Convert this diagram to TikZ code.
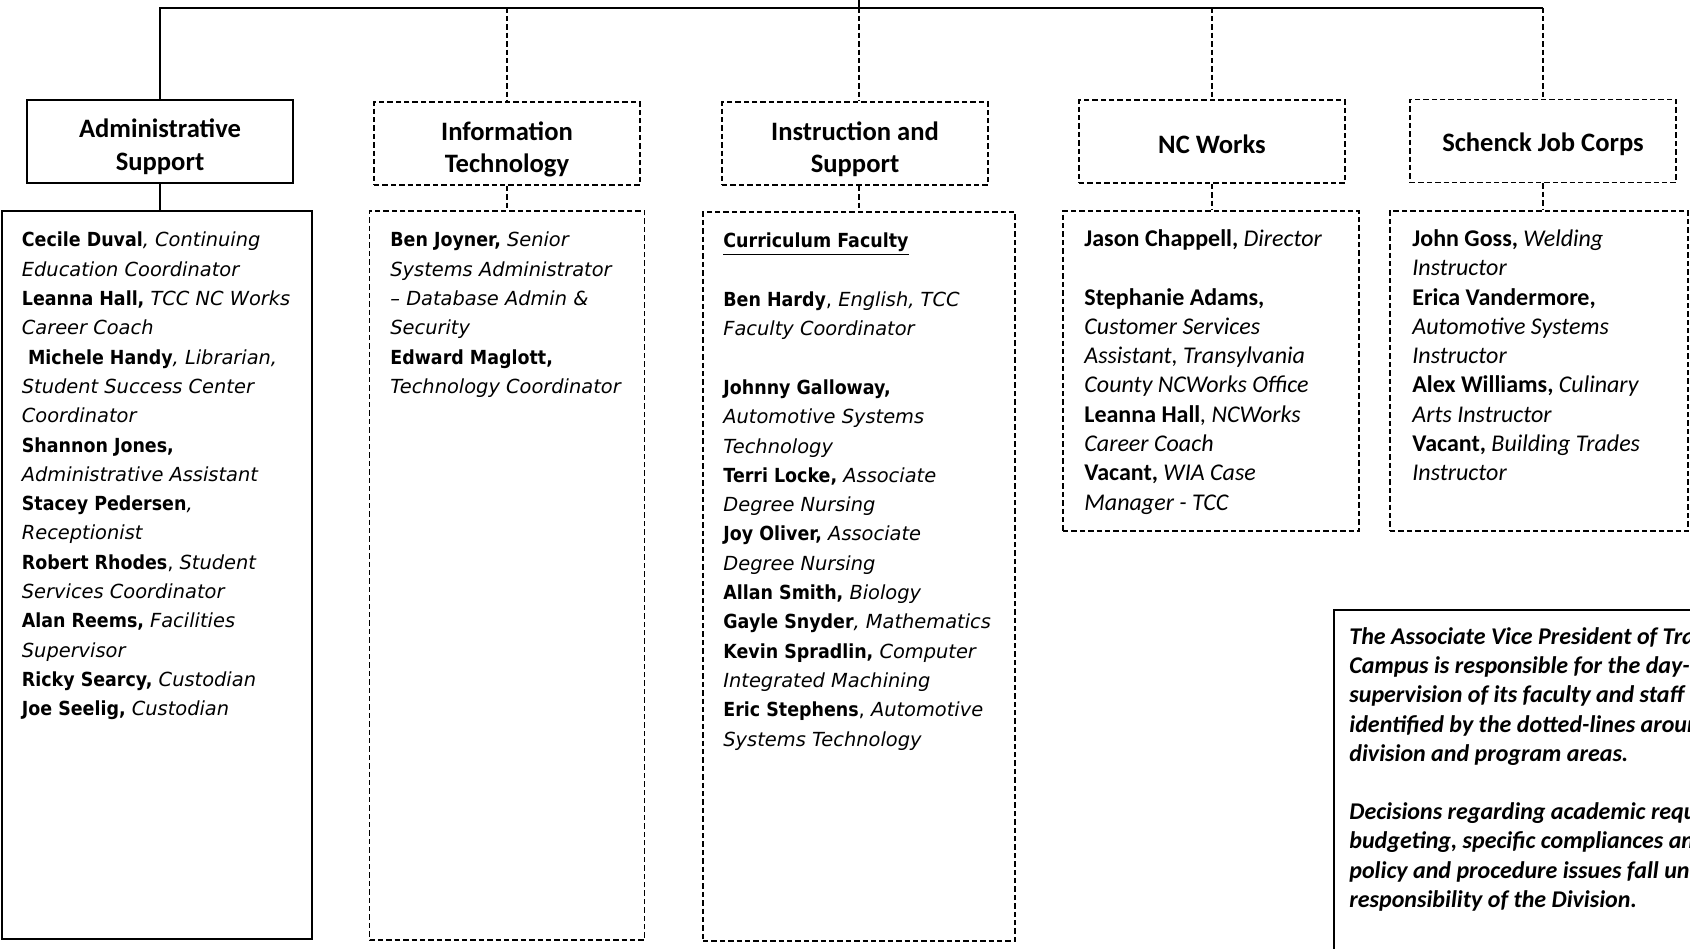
\documentclass[tikz,border=0pt]{standalone}
\usepackage{fontspec}
\newfontfamily\calibri{Carlito}
\newfontfamily\verdana{DejaVu Sans}[BoldFeatures={FakeStretch=0.9}]
\newcommand\firststrut{\rule{0pt}{10pt}}
\newcommand\hdrstrut{\rule{0pt}{15pt}}
\newcommand\onestrut{\rule{0pt}{12.4pt}}
\begin{document}
\begin{tikzpicture}[x=0.5pt,y=-0.5pt,
  solidln/.style={line width=1pt},
  dsh/.style={line width=0.8pt, dash pattern=on 2.7pt off 1.5pt},
  hdr/.style={minimum width=133pt, minimum height=41.5pt, inner sep=0pt, align=center,
    font=\calibri\bfseries\fontsize{13.3}{16.2}\selectfont},
  lst/.style={inner sep=0pt},
  vtxt/.style={anchor=north west, inner sep=0pt, align=left,
    font=\verdana\fontsize{9.7}{14.65}\selectfont},
  ctxt/.style={anchor=north west, inner sep=0pt, align=left,
    font=\calibri\fontsize{12}{14.65}\selectfont},
  notetxt/.style={anchor=north west, inner sep=0pt, align=left,
    font=\calibri\bfseries\itshape\fontsize{12}{14.6}\selectfont}
]
\useasboundingbox (0,0) rectangle (1690,948);
\begin{scope}
\clip (0,0) rectangle (1690,948);
% header boxes
\node[hdr, draw, solidln] (adminH) at (160,141) {\hdrstrut Administrative\\Support};
\node[hdr, draw, dsh] (itH) at (507,143.5) {\hdrstrut Information\\Technology};
\node[hdr, draw, dsh] (insH) at (855,143.5) {\hdrstrut Instruction and\\Support};
\node[hdr, draw, dsh] (ncH) at (1212,141.5) {\onestrut NC Works};
\node[hdr, draw, dsh] (sjH) at (1543,141) {\onestrut Schenck Job Corps};
% list boxes
\node[lst, draw, solidln, minimum width=155.15pt, minimum height=364pt] (adminL) at (156.85,575) {};
\node[lst, draw, dsh, minimum width=137.5pt, minimum height=364.5pt] (itL) at (507,575.5) {};
\node[lst, draw, dsh, minimum width=156pt, minimum height=364.5pt] (insL) at (859,576.5) {};
\node[lst, draw, dsh, minimum width=148pt, minimum height=160pt] (ncL) at (1211,371) {};
\node[lst, draw, dsh, minimum width=149pt, minimum height=160pt] (sjL) at (1539,371) {};
\node[lst, draw, solidln, anchor=north west, minimum width=200pt, minimum height=200pt] (noteB) at (1333,609) {};
% connectors
\coordinate (parent) at (859,0);
\coordinate (bus) at (859,7.5);
\draw[solidln] (parent) -- (bus);
\draw[solidln] (adminH.north) -- (adminH.north |- bus) -- (sjH.north |- bus);
\draw[dsh] (itH.north |- bus) -- (itH.north);
\draw[dsh] (bus) -- (bus |- insH.north);
\draw[dsh] (ncH.north |- bus) -- (ncH.north);
\draw[dsh] (sjH.north |- bus) -- (sjH.north);
\draw[solidln] (adminH.south) -- (adminH.south |- adminL.north);
\draw[dsh] (itH.south) -- (itH.south |- itL.north);
\draw[dsh] (insL.north |- insH.south) -- (insL.north);
\draw[dsh] (ncH.south) -- (ncH.south |- ncL.north);
\draw[dsh] (sjH.south) -- (sjH.south |- sjL.north);
% texts
\node[vtxt] (adminT) at (21.5,226.5) {\firststrut\textbf{Cecile Duval}\textit{, Continuing}\\
\textit{Education Coordinator}\\
\textbf{Leanna Hall,} \textit{TCC NC Works}\\
\textit{Career Coach}\\
\hspace*{.32em}\textbf{Michele Handy}\textit{, Librarian,}\\
\textit{Student Success Center}\\
\textit{Coordinator}\\
\textbf{Shannon Jones,}\\
\textit{Administrative Assistant}\\
\textbf{Stacey Pedersen}\textit{,}\\
\textit{Receptionist}\\
\textbf{Robert Rhodes}, \textit{Student}\\
\textit{Services Coordinator}\\
\textbf{Alan Reems,} \textit{Facilities}\\
\textit{Supervisor}\\
\textbf{Ricky Searcy,} \textit{Custodian}\\
\textbf{Joe Seelig,} \textit{Custodian}};
\node[vtxt] (itT) at (390,226.5) {\firststrut\textbf{Ben Joyner,} \textit{Senior}\\
\textit{Systems Administrator}\\
\textit{– Database Admin \&}\\
\textit{Security}\\
\textbf{Edward Maglott,}\\
\textit{Technology Coordinator}};
\node[vtxt] (insT) at (723,227.5) {\firststrut\underline{\textbf{Curriculum Faculty}}\\[14.65pt]
\textbf{Ben Hardy}, \textit{English, TCC}\\
\textit{Faculty Coordinator}\\[14.65pt]
\textbf{Johnny Galloway,}\\
\textit{Automotive Systems}\\
\textit{Technology}\\
\textbf{Terri Locke,} \textit{Associate}\\
\textit{Degree Nursing}\\
\textbf{Joy Oliver,} \textit{Associate}\\
\textit{Degree Nursing}\\
\textbf{Allan Smith,} \textit{Biology}\\
\textbf{Gayle Snyder}\textit{, Mathematics}\\
\textbf{Kevin Spradlin,} \textit{Computer}\\
\textit{Integrated Machining}\\
\textbf{Eric Stephens}, \textit{Automotive}\\
\textit{Systems Technology}};
\node[ctxt] (ncT) at (1084,226) {\firststrut\textbf{Jason Chappell,} \textit{Director}\\[14.65pt]
\textbf{Stephanie Adams,}\\
\textit{Customer Services}\\
\textit{Assistant, Transylvania}\\
\textit{County NCWorks Office}\\
\textbf{Leanna Hall}\textit{, NCWorks}\\
\textit{Career Coach}\\
\textbf{Vacant,} \textit{WIA Case}\\
\textit{Manager - TCC}};
\node[ctxt] (sjT) at (1412,226) {\firststrut\textbf{John Goss,} \textit{Welding}\\
\textit{Instructor}\\
\textbf{Erica Vandermore,}\\
\textit{Automotive Systems}\\
\textit{Instructor}\\
\textbf{Alex Williams,} \textit{Culinary}\\
\textit{Arts Instructor}\\
\textbf{Vacant,} \textit{Building Trades}\\
\textit{Instructor}};
\node[notetxt] (noteT) at (1349,624) {\firststrut The Associate Vice President of Transylvania\\
Campus is responsible for the day-to-day\\
supervision of its faculty and staff\\
identified by the dotted-lines around\\
division and program areas.\\[14.6pt]
Decisions regarding academic requirements,\\
budgeting, specific compliances and\\
policy and procedure issues fall under\\
responsibility of the Division.};
\end{scope}
\end{tikzpicture}
\end{document}
